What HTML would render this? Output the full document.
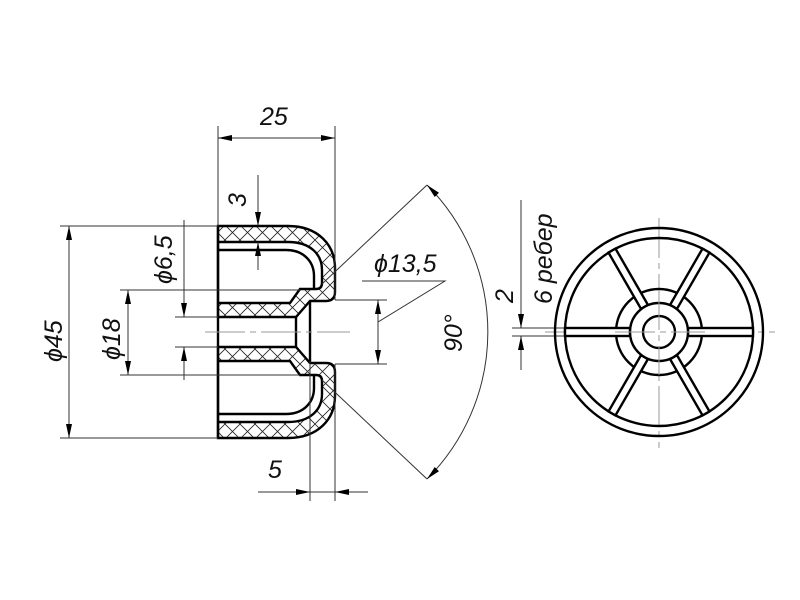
<!DOCTYPE html>
<html><head><meta charset="utf-8"><style>
html,body{margin:0;padding:0;background:#fff;}
svg{display:block;}
text{font-family:"Liberation Sans","DejaVu Sans",sans-serif;font-style:italic;font-size:25px;fill:#111;}
</style></head><body>
<svg width="800" height="600" viewBox="0 0 800 600" xmlns="http://www.w3.org/2000/svg">
<defs>
<pattern id="h" width="15" height="15" patternUnits="userSpaceOnUse">
<path d="M0,0 L15,15 M15,0 L0,15" stroke="#222" stroke-width="0.8"/>
</pattern>
<marker id="a" viewBox="0 0 14 6" refX="14" refY="3" markerWidth="14" markerHeight="6" markerUnits="userSpaceOnUse" orient="auto-start-reverse">
<path d="M0,0 L14,3 L0,6 Z" fill="#000"/>
</marker>
</defs>
<rect width="800" height="600" fill="#fff"/>

<g stroke="#000" stroke-width="2.4" fill="none">
<path d="M218,226 H288 C318,226 335,245 335,268 V292 Q335,301 326,301 H310 L296,317 H218 Z M218,242 H288 C310,242 322,254 322,270 V283 Q322,289 316,289 H300 L290,303 H218 Z" fill="url(#h)" fill-rule="evenodd"/>
<path d="M218,250 H286 C304,250 314,262 314,276 V289"/>
<path d="M296,317 V332"/>
<path d="M310,301 V332"/>
</g>
<g transform="matrix(1,0,0,-1,0,664)" stroke="#000" stroke-width="2.4" fill="none">
<path d="M218,226 H288 C318,226 335,245 335,268 V292 Q335,301 326,301 H310 L296,317 H218 Z M218,242 H288 C310,242 322,254 322,270 V283 Q322,289 316,289 H300 L290,303 H218 Z" fill="url(#h)" fill-rule="evenodd"/>
<path d="M218,250 H286 C304,250 314,262 314,276 V289"/>
<path d="M296,317 V332"/>
<path d="M310,301 V332"/>
</g>
<line x1="218" y1="226" x2="218" y2="438" stroke="#000" stroke-width="2.4"/>

<g stroke="#333" stroke-width="1" fill="none">
<line x1="218" y1="126" x2="218" y2="226"/>
<line x1="335" y1="126" x2="335" y2="300"/>
<line x1="218" y1="138" x2="335" y2="138" marker-start="url(#a)" marker-end="url(#a)"/>
<line x1="258" y1="175" x2="258" y2="226" marker-end="url(#a)"/>
<line x1="258" y1="270" x2="258" y2="242" marker-end="url(#a)"/>
<line x1="60" y1="226" x2="218" y2="226"/>
<line x1="60" y1="438" x2="218" y2="438"/>
<line x1="69" y1="226" x2="69" y2="438" marker-start="url(#a)" marker-end="url(#a)"/>
<line x1="120" y1="290" x2="300" y2="290"/>
<line x1="120" y1="375" x2="300" y2="375"/>
<line x1="128" y1="290" x2="128" y2="375" marker-start="url(#a)" marker-end="url(#a)"/>
<line x1="175" y1="317" x2="218" y2="317"/>
<line x1="175" y1="347" x2="218" y2="347"/>
<line x1="184" y1="220" x2="184" y2="317" marker-end="url(#a)"/>
<line x1="184" y1="380" x2="184" y2="347" marker-end="url(#a)"/>
<line x1="310" y1="361" x2="310" y2="501"/>
<line x1="335" y1="364" x2="335" y2="501"/>
<line x1="258" y1="492" x2="310" y2="492" marker-end="url(#a)"/>
<line x1="368" y1="492" x2="335" y2="492" marker-end="url(#a)"/>
<line x1="310" y1="492" x2="335" y2="492"/>
<line x1="335" y1="300" x2="387" y2="300"/>
<line x1="335" y1="364" x2="387" y2="364"/>
<line x1="378" y1="300" x2="378" y2="364" marker-start="url(#a)" marker-end="url(#a)"/>
<polyline points="378,322 445,281 362,281"/>
<line x1="322" y1="284" x2="427" y2="185"/>
<line x1="322" y1="380" x2="427" y2="479"/>
<path d="M427,185 A208,208 0 0 1 427,479" marker-start="url(#a)" marker-end="url(#a)"/>
<line x1="521" y1="200" x2="521" y2="328" marker-end="url(#a)"/>
<line x1="521" y1="370" x2="521" y2="336" marker-end="url(#a)"/>
<line x1="512" y1="328" x2="566" y2="328"/>
<line x1="512" y1="336" x2="566" y2="336"/>
</g>
<g stroke="#999" stroke-width="1" fill="none" stroke-dasharray="40,5,6,5">
<line x1="205" y1="332" x2="350" y2="332"/>
<line x1="545" y1="332" x2="775" y2="332"/>
<line x1="659" y1="218" x2="659" y2="448"/>
</g>

<g stroke="#000" stroke-width="2.4" fill="none">
<circle cx="659" cy="332" r="104"/>
<circle cx="659" cy="332" r="94"/>
<circle cx="659" cy="332" r="43"/>
<g fill="#fff">
<rect x="688" y="328" width="65" height="8" transform="rotate(0 659 332)"/>
<rect x="688" y="328" width="65" height="8" transform="rotate(60 659 332)"/>
<rect x="688" y="328" width="65" height="8" transform="rotate(120 659 332)"/>
<rect x="688" y="328" width="65" height="8" transform="rotate(180 659 332)"/>
<rect x="688" y="328" width="65" height="8" transform="rotate(240 659 332)"/>
<rect x="688" y="328" width="65" height="8" transform="rotate(300 659 332)"/>
<circle cx="659" cy="332" r="29"/>
</g>
<circle cx="659" cy="332" r="16"/>
</g>
<g stroke="#999" stroke-width="1" stroke-dasharray="40,5,6,5">
<line x1="615" y1="332" x2="705" y2="332"/>
<line x1="659" y1="290" x2="659" y2="375"/>
</g>

<text x="260" y="125">25</text>
<text x="268" y="478">5</text>
<text transform="translate(246,207) rotate(-90)">3</text>
<text transform="translate(62,362) rotate(-90)">ϕ45</text>
<text transform="translate(120,360) rotate(-90)">ϕ18</text>
<text transform="translate(172,284) rotate(-90)">ϕ6,5</text>
<text x="374" y="272">ϕ13,5</text>
<text transform="translate(462,352) rotate(-90)">90°</text>
<text transform="translate(513,303) rotate(-90)">2</text>
<text transform="translate(552,304) rotate(-90)">6 ребер</text>
</svg>
</body></html>
